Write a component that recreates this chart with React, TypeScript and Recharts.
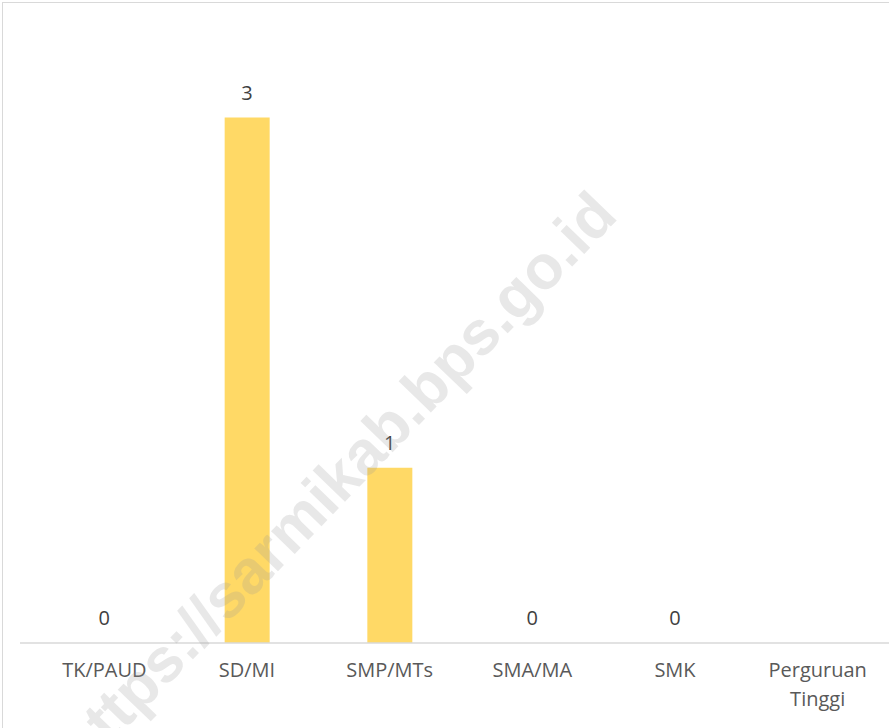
import React from "react";
import { ComposedChart, Bar, Line, XAxis, YAxis, LabelList } from "recharts";

const categories = ["TK/PAUD", "SD/MI", "SMP/MTs", "SMA/MA", "SMK", "Perguruan Tinggi"];
const values: (number | null)[] = [0, 3, 1, 0, 0, null];

const data = categories.map((name, i) => ({ name, value: values[i] }));

const CategoryTick = (props: any) => {
  const { x, y, payload } = props;
  const label: string = payload.value;
  const lines = label.length > 10 ? label.split(" ") : [label];
  return (
    <text x={x} y={y} textAnchor="middle" fill="#595959" fontSize={20} fontFamily="'Open Sans', sans-serif">
      {lines.map((line, i) => (
        <tspan key={i} x={x} dy={i === 0 ? 34 : 29}>
          {line}
        </tspan>
      ))}
    </text>
  );
};

export default function App() {
  return (
    <div
      style={{
        position: "absolute",
        left: 0,
        top: 0,
        width: 889,
        height: 728,
        overflow: "hidden",
        background: "#fff",
      }}
    >
      <div
        style={{
          position: "absolute",
          left: 2,
          top: 2,
          width: 920,
          height: 760,
          border: "1px solid #d9d9d9",
        }}
      />
      <ComposedChart
        width={889}
        height={728}
        data={data}
        margin={{ top: 30, right: 0, left: 20, bottom: 0 }}
        barSize={45}
      >
        <XAxis
          dataKey="name"
          interval={0}
          height={85}
          tickLine={false}
          tickSize={0}
          tickMargin={0}
          padding={{ left: 13, right: 0 }}
          axisLine={{ stroke: "#d9d9d9", strokeWidth: 1.5 }}
          tick={<CategoryTick />}
        />
        <YAxis hide domain={[0, 3.5]} />
        <Bar dataKey="value" fill="#FFD966" isAnimationActive={false} />
        {/* invisible series just to carry the value labels, zeros included */}
        <Line
          dataKey="value"
          stroke="none"
          dot={false}
          activeDot={false}
          connectNulls={false}
          isAnimationActive={false}
        >
          <LabelList
            dataKey="value"
            position="top"
            offset={18}
            fill="#404040"
            fontSize={20}
            fontFamily="'Open Sans', sans-serif"
          />
        </Line>
      </ComposedChart>
      <div
        style={{
          position: "absolute",
          left: 336,
          top: 480,
          transform: "translate(-50%, -50%) rotate(-46deg)",
          whiteSpace: "nowrap",
          fontFamily: "'Liberation Sans', Arial, sans-serif",
          fontWeight: 700,
          fontSize: 62,
          color: "#999999",
          opacity: 0.22,
          pointerEvents: "none",
        }}
      >
        https://sarmikab.bps.go.id
      </div>
    </div>
  );
}
